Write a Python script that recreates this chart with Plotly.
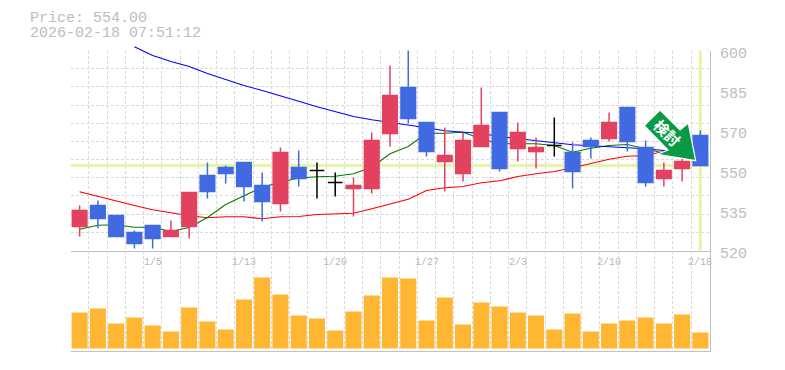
import plotly.graph_objects as go

W, H = 785, 370
dates = ["12/25","12/26","12/29","12/30","1/5","1/6","1/7","1/8","1/9","1/13","1/14","1/15","1/16","1/19","1/20","1/21","1/22","1/23","1/26","1/27","1/28","1/29","1/30","2/2","2/3","2/4","2/5","2/6","2/9","2/10","2/12","2/13","2/16","2/17","2/18"]
date_ticks = ["1/5","1/13","1/20","1/27","2/3","2/10","2/18"]
idx = list(range(len(dates)))

open_ = [529.6,538,534,527.2,530,525.6,529.6,550,553.2,555.2,546,538.8,553.2,552,547.2,544.8,544.8,566.8,585.2,571.2,555.6,550.8,561.6,575.2,560.8,559.6,562,559.2,564,564.8,577.2,561.2,548.8,552.8,566]
close = [536,532.8,525.6,522.8,524.8,528,543.2,543.6,550.8,545.6,539.6,559.2,548.8,552,547.2,546,564,582,572.8,559.6,558,564,570,552.8,567.2,561.2,562,551.6,561.6,571.2,563.6,547.2,552,555.6,554]
high = [538,540,534,528,530,532,543.2,555.2,554,555.2,551.2,561.2,560,555.2,551.2,549.2,567.2,594,604,571.2,569.2,567.2,585.2,575.2,571.2,565.2,573.2,563.2,565.2,575.2,577.2,564,555.2,558,568]
low = [525.6,528.9,525.6,520.8,520.8,525.6,524.8,540.8,546.8,539.6,531.6,535.6,545.6,540.8,541.6,533.6,542.8,561.6,570.8,557.6,543.6,547.6,561.6,551.6,555.6,552.8,557.6,544.8,556.8,563.6,559.6,545.6,545.6,547.6,554]
volume = [36,40,25,31,23,17,41,27,19,49,71,54,33,30,18,37,53,71,70,28,51,24,46,42,36,33,19,35,17,25,28,31,25,34,16]
ma_long = [None,None,None,601.5,598,595.6,593.6,590.8,588.4,586,584,582,579.7,577.5,575.5,573.6,572.3,571.3,570.4,569.1,567.9,567.5,566.8,565.6,564.7,564,562.9,562.3,561.9,561.6,561.2,560.7,560,559.2,None]
ma_short = [528.5,530.1,530.3,529.3,529.3,527.6,529.2,533.2,538.4,542,545.3,547.3,549,549.5,549.7,550.7,553.3,558.7,561.6,566.9,566.9,567.3,564.7,562.7,562.7,562.7,562,559.3,560.9,562,562.4,560.7,558.8,557.2,None]
ma_mid = [543.5,541.6,539.7,538,536.3,535.1,533.9,533.1,533.5,533.5,532.7,533.5,533.6,534.4,534.7,534.9,536.7,538.7,540.5,544,545.1,545.6,547.1,547.9,549.6,550.7,551.6,553.1,554.7,556.5,557.7,558,559.6,560.8,None]
last_price = 554.0
y_ticks = [600,584,568,552,536,520]
y_labels = ["600","585","570","550","535","520"]

GRID = "#d9d9d9"; AXIS = "#c0c0c0"; TXT = "#bdbdbd"; HI = "#e4f5a8"
RED = "#e2425f"; BLUE = "#4169e1"; BAR = "#ffb733"; ARROW = "#089a47"
MONO = "Liberation Mono"
DASH = "3px,2px"

colored = [i for i in idx if open_[i] != close[i]]
doji = [i for i in idx if open_[i] == close[i]]
pick = lambda a, s: [a[i] for i in s]

fig = go.Figure()
fig.add_trace(go.Scatter(x=[-0.5, 34.5], y=[last_price]*2, mode="lines", line=dict(color=HI, width=3), hoverinfo="skip"))
fig.add_trace(go.Scatter(x=[34, 34], y=[520, 600], mode="lines", line=dict(color=HI, width=3), hoverinfo="skip"))
fig.add_trace(go.Scatter(x=idx, y=ma_mid, mode="lines", line=dict(color="#ff0000", width=1.2)))
fig.add_trace(go.Scatter(x=idx, y=ma_short, mode="lines", line=dict(color="#007a00", width=1.1)))
# long average: its own taller pane with the same scale, it starts above the price pane
fig.add_trace(go.Scatter(x=idx, y=ma_long, mode="lines", line=dict(color="#0000ff", width=1.1), xaxis="x2", yaxis="y2"))
fig.add_trace(go.Candlestick(x=pick(idx, colored), open=pick(open_, colored), high=pick(high, colored), low=pick(low, colored), close=pick(close, colored),
    increasing=dict(line=dict(color=RED, width=1.5), fillcolor=RED), decreasing=dict(line=dict(color=BLUE, width=1.5), fillcolor=BLUE), whiskerwidth=0, xaxis="x3", yaxis="y3"))
fig.add_trace(go.Candlestick(x=pick(idx, doji), open=pick(open_, doji), high=pick(high, doji), low=pick(low, doji), close=pick(close, doji),
    increasing=dict(line=dict(color="#000000", width=1.5)), decreasing=dict(line=dict(color="#000000", width=1.5)), whiskerwidth=0, xaxis="x3", yaxis="y3"))
fig.add_trace(go.Bar(x=idx, y=volume, marker=dict(color=BAR, line=dict(width=0)), width=0.88, xaxis="x4", yaxis="y4"))

x_dom = [70.5/W, 709.5/W]
top_dom = [1-250.5/H, 1-50.5/H]
tall_dom = [1-250.5/H, 1-40.5/H]
bot_dom = [1-350.5/H, 1-250.5/H]
xbase = dict(range=[-0.5, 34.5], domain=x_dom, showticklabels=False, ticks="", zeroline=False, rangeslider=dict(visible=False))
xgrid = dict(xbase, tick0=-0.5, dtick=1, showgrid=True, gridcolor=GRID, griddash=DASH, gridwidth=1, showline=True, linecolor=AXIS, linewidth=1)
xplain = dict(xbase, showgrid=False, showline=False)
yplain = dict(showticklabels=False, ticks="", zeroline=False, showgrid=False, showline=False)
yline = dict(showticklabels=False, ticks="", zeroline=False, showline=True, linecolor=AXIS, linewidth=1, side="right")
fig.update_layout(
    width=W, height=H, autosize=False, margin=dict(l=0, r=0, t=0, b=0), paper_bgcolor="white", plot_bgcolor="rgba(0,0,0,0)",
    showlegend=False, boxgap=0.2, boxgroupgap=0, bargap=0.12, hovermode=False,
    xaxis=dict(xgrid, anchor="y"),
    yaxis=dict(yline, domain=top_dom, range=[520, 600], tick0=520, dtick=80/11, showgrid=True, gridcolor=GRID, griddash=DASH, gridwidth=1, anchor="x"),
    xaxis2=dict(xplain, anchor="y2"),
    yaxis2=dict(yplain, domain=tall_dom, range=[520, 604], anchor="x2"),
    xaxis3=dict(xplain, anchor="y3"),
    yaxis3=dict(yplain, domain=top_dom, range=[520, 600], anchor="x3"),
    xaxis4=dict(xgrid, anchor="y4"),
    yaxis4=dict(yline, domain=bot_dom, range=[-2, 98], showgrid=False, anchor="x4"),
)

ann = [
    dict(text="Price: 554.00", x=28/W, y=1-18.5/H, xref="paper", yref="paper", xanchor="left", yanchor="middle", showarrow=False, font=dict(family=MONO, size=15, color=TXT)),
    dict(text="2026-02-18 07:51:12", x=28/W, y=1-33.5/H, xref="paper", yref="paper", xanchor="left", yanchor="middle", showarrow=False, font=dict(family=MONO, size=15, color=TXT)),
]
for v, t in zip(y_ticks, y_labels):
    ann.append(dict(text=t, x=717.5/W, y=v, xref="paper", yref="y", yshift=-4, xanchor="left", yanchor="middle", showarrow=False, font=dict(family=MONO, size=15, color=TXT)))
for d in date_ticks:
    ann.append(dict(text=d, x=dates.index(d), y=1-262/H, xref="x", yref="paper", xanchor="center", yanchor="middle", showarrow=False, font=dict(family=MONO, size=10, color="#b8b8b8")))
fig.update_layout(annotations=ann)

arrow_pts = [(660,110),(644.3,125.7),(668,150),(657.3,154.3),(695.7,160.7),(688.3,123.3),(680,130)]
path = "M" + " L".join(f"{px/W:.5f},{1-py/H:.5f}" for px, py in arrow_pts) + " Z"
fig.add_shape(type="path", xref="paper", yref="paper", path=path, fillcolor=ARROW, line=dict(color="white", width=1.2), layer="above")
fig.add_annotation(text="<b>検討</b>", x=667.5/W, y=1-132/H, xref="paper", yref="paper", textangle=45, showarrow=False, xanchor="center", yanchor="middle",
                   font=dict(family="Noto Sans CJK JP", size=15, color="#ffffff"))

fig.write_html("out.html", config=dict(displayModeBar=False), post_script="document.body.style.margin='0';document.body.style.overflow='hidden';")
